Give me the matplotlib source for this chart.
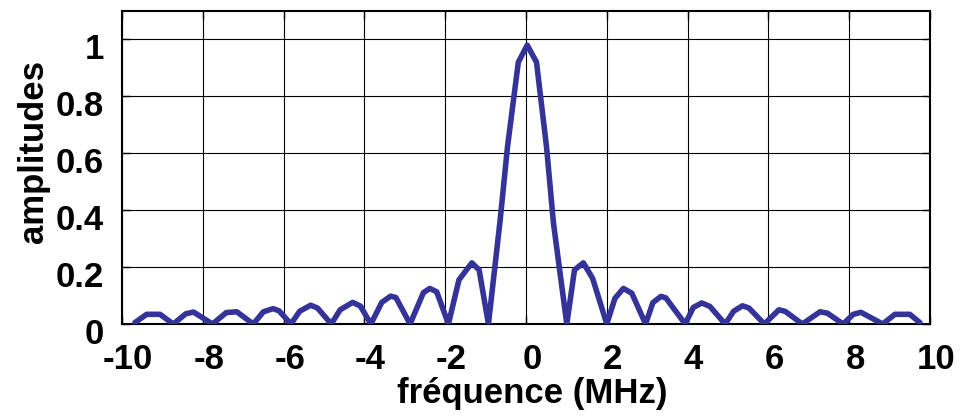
import matplotlib
matplotlib.use("Agg")
import matplotlib.pyplot as plt
from matplotlib.transforms import ScaledTranslation

# Magnitude spectrum samples (frequency in MHz, normalised amplitude)
freq = [-9.68, -9.39, -9.06, -8.73, -8.42, -8.23, -7.76, -7.42, -7.16,
        -6.75, -6.50, -6.26, -6.11, -5.82, -5.60, -5.33, -5.16, -4.82,
        -4.60, -4.29, -4.10, -3.84, -3.57, -3.35, -3.22, -2.87, -2.54,
        -2.38, -2.21, -1.92, -1.66, -1.34, -1.16, -0.93, -0.64, -0.46,
        -0.19, 0.03, 0.26, 0.51, 0.68, 1.01, 1.20, 1.42, 1.65, 2.00,
        2.20, 2.41, 2.62, 2.96, 3.14, 3.34, 3.46, 3.94, 4.14, 4.35,
        4.55, 4.93, 5.14, 5.36, 5.52, 5.90, 6.26, 6.42, 6.84, 7.28,
        7.46, 7.85, 8.10, 8.29, 8.83, 9.13, 9.50, 9.75]
amp = [0.005, 0.034, 0.034, 0.0, 0.036, 0.042, 0.0, 0.040, 0.043,
       0.0, 0.043, 0.054, 0.046, 0.0, 0.045, 0.066, 0.056, 0.0,
       0.050, 0.076, 0.063, 0.0, 0.076, 0.098, 0.093, 0.0, 0.110,
       0.125, 0.113, 0.0, 0.155, 0.215, 0.190, 0.0, 0.365, 0.620,
       0.920, 0.980, 0.920, 0.620, 0.354, 0.0, 0.190, 0.215, 0.160, 0.0,
       0.090, 0.125, 0.108, 0.0, 0.075, 0.097, 0.092, 0.0, 0.058, 0.074,
       0.062, 0.0, 0.045, 0.064, 0.056, 0.0, 0.050, 0.044, 0.0, 0.043,
       0.038, 0.0, 0.034, 0.041, 0.0, 0.034, 0.034, 0.005]

xticks = [-10, -8, -6, -4, -2, 0, 2, 4, 6, 8, 10]
yticks = [0, 0.2, 0.4, 0.6, 0.8, 1.0]
ytick_labels = ["0", "0.2", "0.4", "0.6", "0.8", "1"]

plt.rcParams["font.family"] = ["Liberation Sans", "DejaVu Sans"]
plt.rcParams["font.weight"] = "bold"

fig = plt.figure(figsize=(9.72, 4.19), dpi=100)
ax = fig.add_axes([122 / 972, 95 / 419, 808 / 972, 313 / 419])

ax.plot(freq, amp, color="#333399", linewidth=4.0, solid_joinstyle="round",
        solid_capstyle="round", zorder=3)

ax.set_xlim(-10, 10)
ax.set_ylim(0, 1.1)
ax.set_xticks(xticks)
ax.set_xticklabels([str(t) for t in xticks])
ax.set_yticks(yticks)
ax.set_yticklabels(ytick_labels)

ax.grid(True, color="black", linewidth=0.8, linestyle="-")
ax.set_axisbelow(True)
for s in ax.spines.values():
    s.set_linewidth(1.5)
    s.set_color("black")

ax.tick_params(axis="both", direction="in", length=6, width=1,
               top=True, right=True, labelsize=25)
ax.tick_params(axis="x", pad=14)
ax.tick_params(axis="y", pad=13)

# nudge tick labels: y labels slightly down, x labels slightly right
yshift = ScaledTranslation(0, -7 / 100, fig.dpi_scale_trans)
for lab in ax.get_yticklabels():
    lab.set_transform(lab.get_transform() + yshift)
xshift = ScaledTranslation(6 / 100, 0, fig.dpi_scale_trans)
for lab in ax.get_xticklabels():
    lab.set_transform(lab.get_transform() + xshift)

ax.set_xlabel("fréquence (MHz)", fontsize=25, fontweight="bold")
ax.set_ylabel("amplitudes", fontsize=25, fontweight="bold")
ax.xaxis.set_label_coords(0.508, -0.170)
ax.yaxis.set_label_coords(-0.089, 0.55)

fig.savefig("out.png", dpi=100)
